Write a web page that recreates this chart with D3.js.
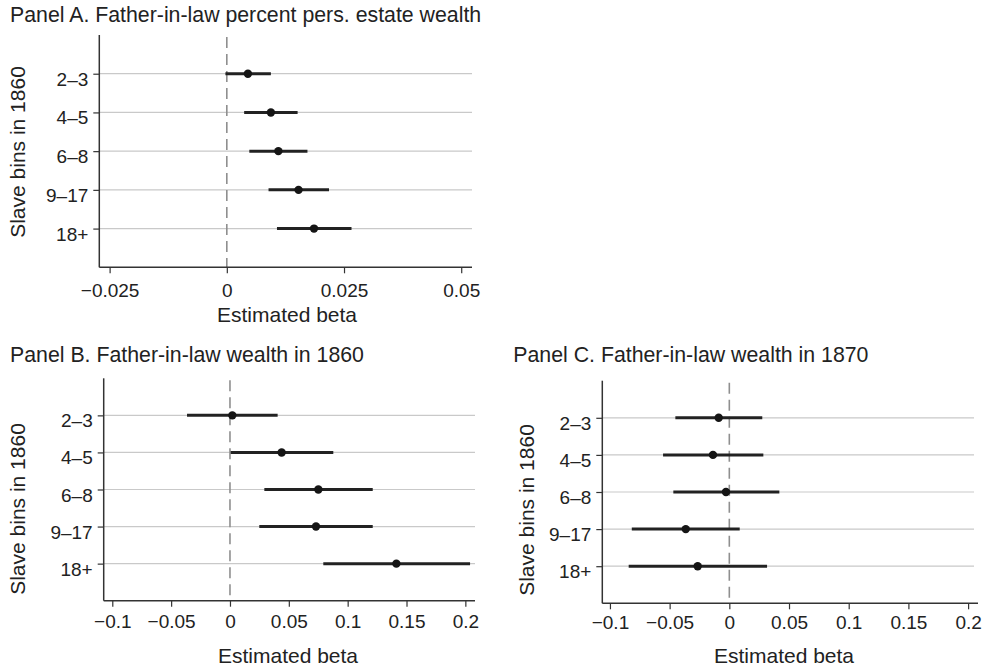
<!DOCTYPE html>
<html>
<head>
<meta charset="utf-8">
<title>Slave bins coefficient plots</title>
<script src="https://cdn.jsdelivr.net/npm/d3@7"></script>
<style>
  body { margin: 0; background: #fff; }
  text { font-family: "Liberation Sans", Arial, Helvetica, sans-serif; fill: #222; }
</style>
</head>
<body>
<script>
var width = 982;
var height = 668;

// row labels (y axis)
var bins = ["2\u20133", "4\u20135", "6\u20138", "9\u201317", "18+"];

// Panel A: father-in-law percent pers. estate wealth
var estA = [0.0045, 0.0094, 0.0110, 0.0153, 0.0186];
var loA  = [-0.0003, 0.0037, 0.0048, 0.0089, 0.0107];
var hiA  = [0.0094, 0.0151, 0.0172, 0.0218, 0.0266];
var ticksA = [-0.025, 0, 0.025, 0.05];
var tickLabelsA = ["\u22120.025", "0", "0.025", "0.05"];

// Panel B: father-in-law wealth in 1860
var estB = [0.0020, 0.0439, 0.0751, 0.0731, 0.1414];
var loB  = [-0.0365, 0.0006, 0.0292, 0.0249, 0.0793];
var hiB  = [0.0405, 0.0878, 0.1213, 0.1213, 0.2040];

// Panel C: father-in-law wealth in 1870
var estC = [-0.0089, -0.0137, -0.0028, -0.0365, -0.0265];
var loC  = [-0.0452, -0.0555, -0.0469, -0.0817, -0.0843];
var hiC  = [0.0276, 0.0285, 0.0419, 0.0087, 0.0316];

var ticksBC = [-0.1, -0.05, 0, 0.05, 0.1, 0.15, 0.2];
var tickLabelsBC = ["\u22120.1", "\u22120.05", "0", "0.05", "0.1", "0.15", "0.2"];

var svg = d3.select("body").append("svg")
  .attr("width", width).attr("height", height);

function drawPanel(p) {
  var g = svg.append("g");

  var x = d3.scaleLinear().domain(p.xDomain).range([p.left, p.right]);
  var y = d3.scaleLinear().domain([0, bins.length + 1]).range([p.top, p.bottom]);

  var rows = bins.map(function(b, i) {
    return { label: b, est: p.est[i], lo: p.lo[i], hi: p.hi[i], pos: i + 1 };
  });

  // gridlines
  g.selectAll("line.grid").data(rows).enter().append("line")
    .attr("class", "grid")
    .attr("x1", p.left).attr("x2", p.gridRight)
    .attr("y1", function(d) { return y(d.pos); })
    .attr("y2", function(d) { return y(d.pos); })
    .style("stroke", "#c9c9c9").style("stroke-width", 1.2);

  // zero line
  g.append("line")
    .attr("x1", x(0)).attr("x2", x(0))
    .attr("y1", p.top + 2).attr("y2", p.bottom)
    .style("stroke", "#8f8f8f").style("stroke-width", 1.6)
    .style("stroke-dasharray", "11,6");

  // axes
  var xAxis = d3.axisBottom(x)
    .tickValues(p.ticks)
    .tickFormat(function(d, i) { return p.tickLabels[i]; })
    .tickSize(6).tickPadding(4);
  var gx = g.append("g").attr("transform", "translate(0," + p.bottom + ")").call(xAxis);
  gx.select(".domain").attr("d", "M" + p.left + ",0H" + p.right)
    .style("stroke", "#333").style("stroke-width", 1.5);
  gx.selectAll(".tick line").style("stroke", "#333").style("stroke-width", 1.2);
  gx.selectAll(".tick text")
    .attr("y", p.xTickOff).attr("dy", null)
    .style("font-size", "19px").style("fill", "#222");

  var yAxis = d3.axisLeft(y)
    .tickValues(rows.map(function(d) { return d.pos; }))
    .tickFormat(function(d) { return bins[d - 1]; })
    .tickSize(6).tickPadding(6);
  var gy = g.append("g").attr("transform", "translate(" + p.left + ",0)").call(yAxis);
  gy.select(".domain").attr("d", "M0," + p.top + "V" + p.bottom)
    .style("stroke", "#333").style("stroke-width", 1.5);
  gy.selectAll(".tick line").style("stroke", "#333").style("stroke-width", 1.2);
  gy.selectAll(".tick text")
    .attr("x", -11).attr("dy", null).attr("y", 11.5)
    .style("font-size", "19px").style("fill", "#222");

  // confidence intervals
  g.selectAll("line.ci").data(rows).enter().append("line")
    .attr("class", "ci")
    .attr("x1", function(d) { return x(d.lo); })
    .attr("x2", function(d) { return x(d.hi); })
    .attr("y1", function(d) { return y(d.pos); })
    .attr("y2", function(d) { return y(d.pos); })
    .style("stroke", "#222").style("stroke-width", 3);

  // point estimates
  g.selectAll("circle.est").data(rows).enter().append("circle")
    .attr("class", "est")
    .attr("cx", function(d) { return x(d.est); })
    .attr("cy", function(d) { return y(d.pos); })
    .attr("r", 4.2)
    .style("fill", "#151515");

  // titles
  g.append("text")
    .attr("x", p.titleX).attr("y", p.titleY)
    .style("font-size", "21.3px")
    .text(p.title);

  g.append("text")
    .attr("x", p.xTitleX).attr("y", p.bottom + p.xTitleOff)
    .attr("text-anchor", "middle")
    .style("font-size", "21px")
    .text("Estimated beta");

  g.append("text")
    .attr("transform", "translate(" + p.yTitleX + "," + p.yTitleY + ") rotate(-90)")
    .attr("text-anchor", "middle")
    .style("font-size", "21px")
    .text("Slave bins in 1860");
}

drawPanel({
  title: "Panel A. Father-in-law percent pers. estate wealth",
  titleX: 10, titleY: 21.5,
  left: 99.3, right: 472, gridRight: 472, top: 35, bottom: 267.3,
  xDomain: [-0.0272, 0.0523],
  ticks: ticksA, tickLabels: tickLabelsA,
  est: estA, lo: loA, hi: hiA,
  xTickOff: 29.5, xTitleOff: 54.5, xTitleX: 287,
  yTitleX: 24.5, yTitleY: 152
});

drawPanel({
  title: "Panel B. Father-in-law wealth in 1860",
  titleX: 10, titleY: 361.7,
  left: 103.7, right: 475, gridRight: 475, top: 378.3, bottom: 600.7,
  xDomain: [-0.1073, 0.2082],
  ticks: ticksBC, tickLabels: tickLabelsBC,
  est: estB, lo: loB, hi: hiB,
  xTickOff: 27, xTitleOff: 62, xTitleX: 288,
  yTitleX: 24.5, yTitleY: 509
});

drawPanel({
  title: "Panel C. Father-in-law wealth in 1870",
  titleX: 513.3, titleY: 361.7,
  left: 602.3, right: 978, gridRight: 974, top: 380.7, bottom: 603.3,
  xDomain: [-0.1064, 0.2083],
  ticks: ticksBC, tickLabels: tickLabelsBC,
  est: estC, lo: loC, hi: hiC,
  xTickOff: 26, xTitleOff: 59.4, xTitleX: 784,
  yTitleX: 534, yTitleY: 510
});
</script>
</body>
</html>
